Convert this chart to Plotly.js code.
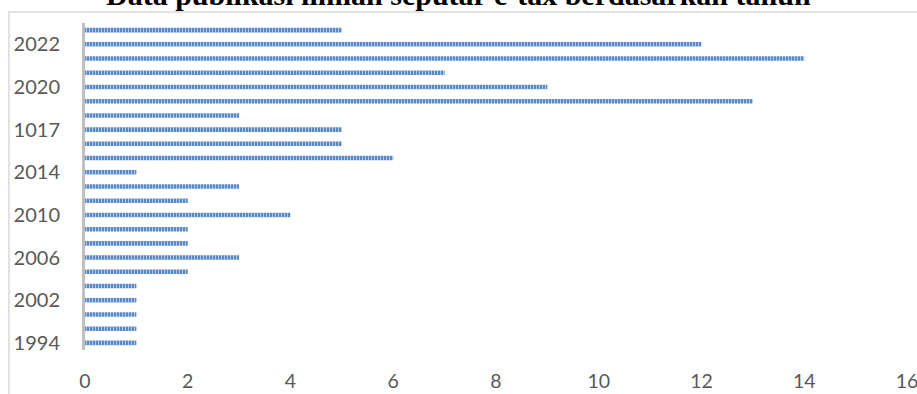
<!DOCTYPE html>
<html>
<head>
<meta charset="utf-8">
<script src="https://cdn.plot.ly/plotly-3.0.1.min.js"></script>
<style>html,body{margin:0;padding:0;background:#fff;}#chart{width:917px;height:394px;}</style>
</head>
<body>
<div id="chart"></div>
<script>
// Years (bottom to top); only every third label is displayed in the original chart
const years = ['1994','1998','2000','2002','2003','2005','2006','2007','2008','2010','2011','2012',
               '2014','2015','2016','1017','2018','2019','2020','2020 ','2021','2022','2023'];
// Number of publications per year
const counts = [1,1,1,1,1,2,3,2,2,4,2,3,1,6,5,5,3,13,9,7,14,12,5];
const xTicks = [0,2,4,6,8,10,12,14,16];
const chartTitle = 'Data publikasi ilmiah seputar e-tax berdasarkan tahun';

const trace = {
  type: 'bar',
  orientation: 'h',
  y: years,
  x: counts,
  marker: {
    color: '#5a89c9',
    line: {width: 0},
    pattern: {shape: '|', fgcolor: '#b1c8ea', bgcolor: '#5a89c9', size: 3, solidity: 0.35}
  },
  hoverinfo: 'x+y'
};

const layout = {
  width: 917, height: 394,
  margin: {l: 85, r: 10, t: 23, b: 44},
  paper_bgcolor: '#ffffff', plot_bgcolor: '#ffffff',
  showlegend: false,
  bargap: 0.68,
  xaxis: {
    range: [0, 16],
    tickvals: xTicks,
    ticktext: xTicks.map(String),
    showgrid: false, zeroline: false, showline: false,
    ticks: '',
    ticklabelstandoff: 17,
    ticklabeloverflow: 'allow',
    tickfont: {family: 'Lato, Open Sans, sans-serif', size: 19.5, color: '#595959'},
    fixedrange: true
  },
  yaxis: {
    type: 'category',
    categoryorder: 'array', categoryarray: years,
    tickmode: 'linear', tick0: 0, dtick: 3,
    range: [-0.5, years.length - 0.5],
    showgrid: false, zeroline: false,
    showline: true, linecolor: '#bfbfbf', linewidth: 3,
    ticks: '',
    ticklabelstandoff: 18,
    tickfont: {family: 'Lato, Open Sans, sans-serif', size: 20, color: '#595959'},
    fixedrange: true
  },
  annotations: [{
    text: '<b>' + chartTitle + '</b>',
    xref: 'paper', yref: 'paper',
    x: 0.4544, y: 1.0886,
    xanchor: 'center', yanchor: 'middle',
    showarrow: false,
    font: {family: 'Liberation Serif, Times New Roman, serif', size: 30, color: '#000000'}
  }],
  shapes: [{
    type: 'path', xref: 'paper', yref: 'paper',
    path: 'M -0.0925 -0.2 L -0.0925 1.0336 L 1.05 1.0336',
    line: {color: '#d9d9d9', width: 1.5},
    layer: 'below'
  }]
};

Plotly.newPlot('chart', [trace], layout, {displayModeBar: false, staticPlot: true});
</script>
</body>
</html>
